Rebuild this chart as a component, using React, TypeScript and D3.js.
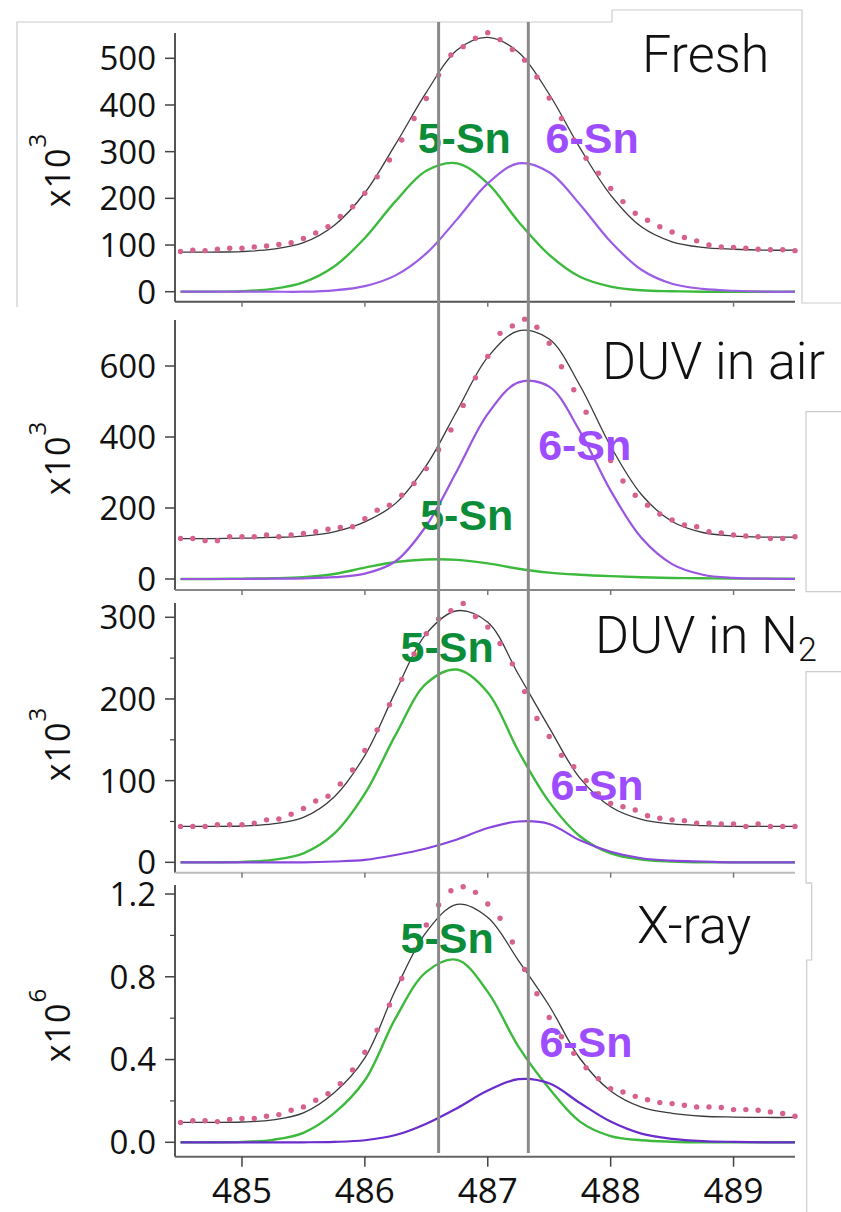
import React from "react";
import * as d3 from "d3";

// ---------- data ----------
const dotEnergy = [484.5,484.6,484.7,484.8,484.9,485.0,485.1,485.2,485.3,485.4,485.5,485.6,485.7,485.8,485.9,486.0,486.1,486.2,486.3,486.4,486.5,486.6,486.7,486.8,486.9,487.0,487.1,487.2,487.3,487.4,487.5,487.6,487.7,487.8,487.9,488.0,488.1,488.2,488.3,488.4,488.5,488.6,488.7,488.8,488.9,489.0,489.1,489.2,489.3,489.4,489.5];
const fitEnergy = [484.5,484.75,485,485.25,485.5,485.75,486,486.25,486.5,486.75,487,487.25,487.5,487.75,488,488.25,488.5,488.75,489,489.25,489.5];

// Fresh (x10^3)
const fresh5Sn = [0,0,1,6,20,54,115,194,259,275,232,150,79,32,11,3,1,0,0,0,0];
const fresh6Sn = [0,0,0,0,0,3,12,35,82,155,232,275,256,187,107,47,17,6,2,0,0];
const freshFit = [85,85,86,91,105,142,212,316,427,518,545,513,423,308,207,139,107,95,91,89,89];
const freshData = [86,89,88,91,93,93,96,98,101,105,114,126,139,161,182,211,246,282,325,371,
  414,464,507,525,543,555,540,519,496,460,415,371,325,286,254,221,193,168,153,139,128,116,109,100,96,95,93,91,90,90,88];

// DUV in air (x10^3)
const air5Sn = [0,0,1,2,5,14,32,48,55,54,44,29,18,12,8,5,3,2,1,1,1];
const air6Sn = [0,0,0,1,2,5,15,50,150,305,465,554,542,416,249,116,42,12,3,1,0];
const airFit = [114,114,115,117,121,133,161,213,320,474,625,699,676,545,374,238,162,131,121,118,118];
const airData = [114,114,108,108,119,119,119,124,119,124,128,133,140,145,147,170,194,208,236,269,
  311,364,420,489,567,627,692,713,732,709,664,598,533,470,400,334,276,236,208,183,166,152,147,133,130,124,121,119,114,114,119];

// DUV in N2 (x10^3)
const n25Sn = [0,0,0.5,3,11,35,84,156,219,236,208,136,74,32,11,3.5,1,0,0,0,0];
const n26Sn = [0,0,0,0,0,1,3,9,17,28,42,50,47,27,13,5,2,1,0,0,0];
const n2Fit = [44,44,44.5,47,55,80,131,209,280,308,294,230,165,103,68,52.5,47,45,44,44,44];
const n2Data = [44,44,44,46,46,46,48,52,53,59,66,75,81,96,113,137,162,193,224,255,
  280,298,308,317,301,288,268,243,209,176,154,131,117,100,84,72,68,64,57,54,52,51,48,48,47,47,44,47,44,44,44];

// X-ray (x10^6)
const xray5Sn = [0,0,0.002,0.012,0.046,0.141,0.30,0.60,0.824,0.882,0.727,0.462,0.26,0.10,0.03,0.01,0.003,0,0,0,0];
const xray6Sn = [0,0,0,0,0,0.002,0.01,0.035,0.09,0.165,0.25,0.305,0.285,0.19,0.10,0.042,0.017,0.006,0.002,0,0];
const xrayFit = [0.096,0.096,0.098,0.108,0.142,0.239,0.408,0.737,1.016,1.15,1.087,0.878,0.66,0.405,0.248,0.17,0.14,0.126,0.122,0.12,0.12];
const xrayData = [0.096,0.104,0.104,0.100,0.110,0.115,0.115,0.126,0.134,0.155,0.171,0.203,0.235,0.283,0.350,0.435,0.542,0.664,0.792,0.93,
  1.05,1.147,1.216,1.235,1.208,1.152,1.083,0.968,0.835,0.718,0.603,0.510,0.430,0.360,0.307,0.259,0.243,0.222,0.206,0.192,0.187,0.179,0.171,0.171,0.168,0.158,0.158,0.155,0.147,0.139,0.126];

// ticks
const xTicks = [485, 486, 487, 488, 489];
const freshTicks = [0, 100, 200, 300, 400, 500];
const airTicks = [0, 200, 400, 600];
const n2Ticks = [0, 100, 200, 300];
const n2Minor = [50, 150, 250];
const xrayTicks = [0, 0.4, 0.8, 1.2];
const xrayMinor = [0.2, 0.6, 1.0];
const markerLines = [486.6, 487.33];

// ---------- panel config ----------
const panels = [
  { title: "Fresh", s5: fresh5Sn, s6: fresh6Sn, fit: freshFit, data: freshData,
    domain: [-21.4, 554.2], range: [301.7, 33], ticks: freshTicks, minor: [] as number[], fmt: (v: number) => String(v),
    exp: "3", labelY: 170, purple: "#9b5de5", axisColor: "#555",
    lab5: [486.43, 297], lab6: [487.47, 297], titleX: 642, titleY: 72 },
  { title: "DUV in air", s5: air5Sn, s6: air6Sn, fit: airFit, data: airData,
    domain: [-31, 729.6], range: [590, 320], ticks: airTicks, minor: [] as number[], fmt: (v: number) => String(v),
    exp: "3", labelY: 458, purple: "#9a55e0", axisColor: "#888",
    lab5: [486.45, 138], lab6: [487.41, 335], titleX: 602, titleY: 379 },
  { title: "DUV in N", sub: "2", s5: n25Sn, s6: n26Sn, fit: n2Fit, data: n2Data,
    domain: [-12.7, 317.5], range: [872.7, 603], ticks: n2Ticks, minor: n2Minor, fmt: (v: number) => String(v),
    exp: "3", labelY: 744, purple: "#8846dc", axisColor: "#bbb",
    lab5: [486.29, 245], lab6: [487.51, 76], titleX: 595, titleY: 653 },
  { title: "X-ray", s5: xray5Sn, s6: xray6Sn, fit: xrayFit, data: xrayData,
    domain: [-0.0696, 1.2436], range: [1156.7, 885], ticks: xrayTicks, minor: xrayMinor, fmt: d3.format(".1f"),
    exp: "6", labelY: 1025, purple: "#6a2ccc", axisColor: "#666",
    lab5: [486.29, 0.915], lab6: [487.42, 0.412], titleX: 637, titleY: 943 },
];

const W = 841, H = 1212;
const AXIS_X = 175;
const x = d3.scaleLinear().domain([484.455, 489.5]).range([175, 795]);

const GREEN = "#3dba3d";
const GREEN_LABEL = "#0b8c38";
const PURPLE_LABEL = "#9d4dff";
const FRAME = "#cccccc";
const tickFont = "'Open Sans', 'DejaVu Sans', sans-serif";

function Panel({ p, last }: any) {
  const y = d3.scaleLinear().domain(p.domain).range(p.range);
  const line = d3.line<number>()
    .x((_, i) => x(fitEnergy[i]))
    .y((d) => y(d))
    .curve(d3.curveCatmullRom.alpha(0.5));
  const bottom = p.range[0];
  const top = p.range[1];
  return (
    <g>
      {/* axes */}
      <line x1={AXIS_X} x2={AXIS_X} y1={top} y2={bottom} stroke="#555" strokeWidth={2} />
      <line x1={AXIS_X} x2={x(489.5)} y1={bottom} y2={bottom} stroke={p.axisColor} strokeWidth={2} />
      {p.ticks.map((t: number) => (
        <g key={"t" + t}>
          <line x1={AXIS_X - 10} x2={AXIS_X} y1={y(t)} y2={y(t)} stroke="#444" strokeWidth={1.5} />
          <text x={156} y={y(t)} dy="0.36em" textAnchor="end" fontFamily={tickFont} fontSize={33} fill="#111">
            {p.fmt(t)}
          </text>
        </g>
      ))}
      {p.minor.map((t: number) => (
        <line key={"m" + t} x1={AXIS_X - 5} x2={AXIS_X} y1={y(t)} y2={y(t)} stroke="#444" strokeWidth={1.2} />
      ))}
      {xTicks.map((t) => (
        <line key={"x" + t} x1={x(t)} x2={x(t)} y1={bottom} y2={bottom + (last ? 10 : 5)} stroke={last ? "#444" : "#777"} strokeWidth={1.5} />
      ))}
      {last && xTicks.map((t) => (
        <text key={"xl" + t} x={x(t)} y={1203} textAnchor="middle" fontFamily={tickFont} fontSize={35} fill="#111">{t}</text>
      ))}
      {/* y label */}
      <text transform={`translate(70, ${p.labelY}) rotate(-90)`} textAnchor="middle" fontFamily={tickFont} fontSize={34} letterSpacing={1} fill="#111">
        x10<tspan dy={-24} fontSize={24}>{p.exp}</tspan>
      </text>
      {/* curves */}
      <path d={line(p.s5) || ""} fill="none" stroke={GREEN} strokeWidth={2.4} />
      <path d={line(p.s6) || ""} fill="none" stroke={p.purple} strokeWidth={2.2} />
      <path d={line(p.fit) || ""} fill="none" stroke="#3a3a3a" strokeWidth={1.3} />
      {p.data.map((v: number, i: number) => (
        <circle key={"d" + i} cx={x(dotEnergy[i])} cy={y(v)} r={2.7} fill="#d6618f" />
      ))}
      {/* component labels */}
      <text x={x(p.lab5[0])} y={y(p.lab5[1])} fontFamily="'Liberation Sans', Arial, sans-serif" fontWeight="bold" fontSize={43} fill={GREEN_LABEL}>5-Sn</text>
      <text x={x(p.lab6[0])} y={y(p.lab6[1])} fontFamily="'Liberation Sans', Arial, sans-serif" fontWeight="bold" fontSize={43} fill={PURPLE_LABEL}>6-Sn</text>
      {/* title */}
      <text x={p.titleX} y={p.titleY} fontFamily="Roboto, 'Open Sans', sans-serif" fontWeight={300} fontSize={52} fill="#111">
        {p.title}
        {p.sub && <tspan dy={8} fontSize={34}>{p.sub}</tspan>}
      </text>
    </g>
  );
}

export default function App() {
  return (
    <svg width={W} height={H} viewBox={`0 0 ${W} ${H}`} style={{ position: "absolute", left: 0, top: 0, background: "#fff" }}>
      <rect x={0} y={0} width={W} height={H} fill="#fff" />
      {/* composite frame edges */}
      <path d="M17,307 V22 H612 V10 H802 V303 H841" fill="none" stroke={FRAME} strokeWidth={1.2} />
      <path d="M841,411.7 H806 V591.7 H841" fill="none" stroke={FRAME} strokeWidth={1.2} />
      <path d="M841,671.7 H806 V883 H811" fill="none" stroke={FRAME} strokeWidth={1.2} />
      <path d="M806,883 H811.7 V960 H806.7 V1212" fill="none" stroke={FRAME} strokeWidth={1.2} />
      {panels.map((p, i) => (
        <Panel key={i} p={p} last={i === panels.length - 1} />
      ))}
      {markerLines.map((e) => (
        <line key={e} x1={x(e)} x2={x(e)} y1={22} y2={1153} stroke="#8a8a8a" strokeWidth={3} />
      ))}
    </svg>
  );
}
